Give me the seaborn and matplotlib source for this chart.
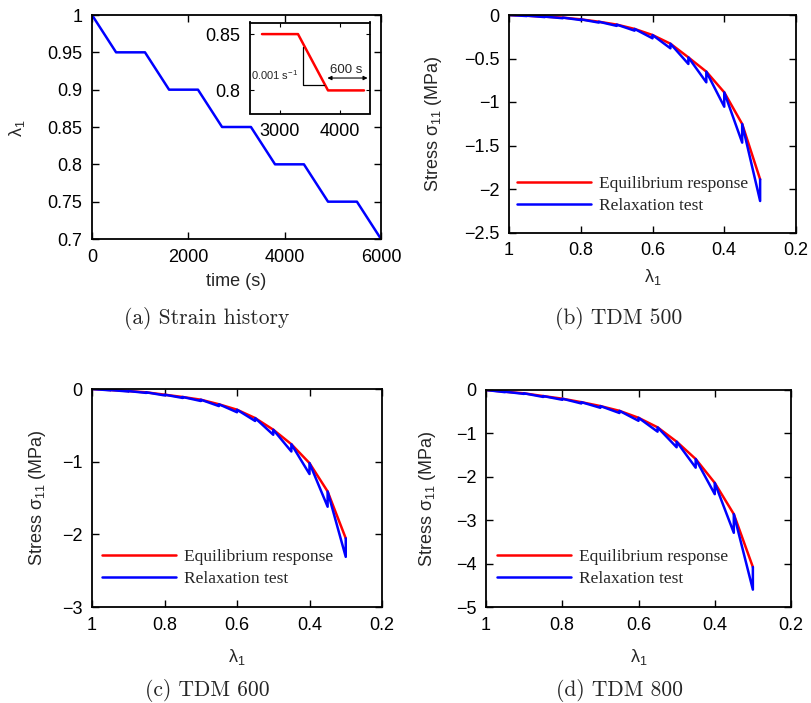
import numpy as np
import pandas as pd
import matplotlib
matplotlib.use("Agg")
import matplotlib.pyplot as plt
import seaborn as sns

# ---- strain history -------------------------------------------------------
hist_time = [0, 500, 1100, 1600, 2200, 2700, 3300, 3800, 4400, 4900, 5500, 6000]
hist_lam = [1.0, 0.95, 0.95, 0.90, 0.90, 0.85, 0.85, 0.80, 0.80, 0.75, 0.75, 0.70]
inset_time = [2700, 3300, 3800, 4400]
inset_lam = [0.85, 0.85, 0.80, 0.80]

# ---- stress-stretch data (one step every 0.05 in lambda_1) ----------------
lam_steps = [1.0, 0.95, 0.90, 0.85, 0.80, 0.75, 0.70, 0.65, 0.60, 0.55,
             0.50, 0.45, 0.40, 0.35, 0.30]

eq_500 = [0, -0.008, -0.019, -0.030, -0.050, -0.077, -0.110, -0.160, -0.230,
          -0.330, -0.487, -0.651, -0.889, -1.253, -1.889]
peak_500 = [0, -0.012, -0.024, -0.037, -0.058, -0.087, -0.125, -0.180, -0.268,
            -0.383, -0.563, -0.774, -1.054, -1.467, -2.138]

eq_600 = [0, -0.014, -0.028, -0.046, -0.078, -0.110, -0.147, -0.210, -0.285,
          -0.400, -0.560, -0.760, -1.020, -1.410, -2.055]
peak_600 = [0, -0.018, -0.034, -0.054, -0.088, -0.123, -0.165, -0.235, -0.320,
            -0.440, -0.630, -0.860, -1.170, -1.620, -2.310]

eq_800 = [0, -0.040, -0.077, -0.140, -0.200, -0.280, -0.370, -0.480, -0.640,
          -0.860, -1.190, -1.590, -2.140, -2.860, -4.080]
peak_800 = [0, -0.050, -0.090, -0.160, -0.225, -0.310, -0.410, -0.530, -0.710,
            -0.960, -1.320, -1.790, -2.400, -3.290, -4.600]

W, H = 811, 703
LW = 1.8
sns.set_theme(style="ticks")
plt.rcParams["font.family"] = ["Liberation Sans", "DejaVu Sans"]
plt.rcParams["mathtext.default"] = "regular"
plt.rcParams["axes.unicode_minus"] = True

fig = plt.figure(figsize=(W / 100, H / 100), dpi=100)


def add_ax(left, right, top, bottom):
    return fig.add_axes([left / W, 1 - bottom / H, (right - left) / W, (bottom - top) / H])


def style(ax, size=13):
    ax.tick_params(direction="in", top=True, right=True, length=5, width=1,
                   labelsize=size, pad=7, colors="black")
    for s in ax.spines.values():
        s.set_linewidth(1.3)
        s.set_color("black")
    ax.grid(False)


def place_labels(ax, xlab, ylab):
    # xlab / ylab: (x, y) centre of each axis label in pixels from the top-left
    ax.xaxis.label.set_verticalalignment("center")
    ax.yaxis.label.set_verticalalignment("center")
    ax.xaxis.set_label_coords(xlab[0] / W, 1 - xlab[1] / H, transform=fig.transFigure)
    ax.yaxis.set_label_coords(ylab[0] / W, 1 - ylab[1] / H, transform=fig.transFigure)


def fmt(v):
    s = f"{v:g}"
    return s.replace("-", "\u2212")


def relaxation_path(lam, eq, peak):
    xs, ys = [lam[0]], [eq[0]]
    for i in range(1, len(lam)):
        xs += [lam[i], lam[i]]
        ys += [peak[i], eq[i]]
    return xs, ys


# ---- (a) strain history ---------------------------------------------------
ax_a = add_ax(92, 381, 15, 239)
sns.lineplot(x=hist_time, y=hist_lam, ax=ax_a, color="#0000ff", lw=LW,
             sort=False, estimator=None)
ax_a.set_xlim(0, 6000)
ax_a.set_ylim(0.7, 1.0)
xt = [0, 2000, 4000, 6000]
ax_a.set_xticks(xt)
ax_a.set_xticklabels([str(v) for v in xt])
yt = [0.7, 0.75, 0.8, 0.85, 0.9, 0.95, 1.0]
ax_a.set_yticks(yt)
ax_a.set_yticklabels([fmt(v) for v in yt])
style(ax_a)
ax_a.set_xlabel("time (s)", fontsize=13)
ax_a.set_ylabel("λ$_1$", fontsize=13)
place_labels(ax_a, (236, 281), (17, 128))

# inset: one loading step
ax_in = add_ax(250, 370, 22.5, 113.5)
ax_in.set_zorder(5)
sns.lineplot(x=inset_time, y=inset_lam, ax=ax_in, color="#ff0000", lw=LW,
             sort=False, estimator=None)
ax_in.set_xlim(2500, 4500)
ax_in.set_ylim(0.7795, 0.8603)
ax_in.set_xticks([3000, 4000])
ax_in.set_xticklabels(["3000", "4000"])
ax_in.set_yticks([0.8, 0.85])
ax_in.set_yticklabels(["0.8", "0.85"])
ax_in.tick_params(direction="in", top=True, right=True, length=3, width=0.8,
                  labelsize=13, pad=7, colors="black")
for s in ax_in.spines.values():
    s.set_linewidth(1.3)
    s.set_color("black")
ax_in.grid(False)
ax_in.plot([3375, 3375, 3728], [0.8383, 0.8048, 0.8048], color="black", lw=0.9)
ax_in.text(3310, 0.8138, "0.001 s$^{-1}$", fontsize=8, ha="right", va="center")
ax_in.annotate("", xy=(4460, 0.811), xytext=(3790, 0.811),
               arrowprops=dict(arrowstyle="<|-|>", color="black", lw=0.8,
                               mutation_scale=6, shrinkA=0, shrinkB=0))
ax_in.text(4110, 0.8185, "600 s", fontsize=9.5, ha="center", va="center")


# ---- stress panels --------------------------------------------------------
def stress_panel(box, eq, peak, ylim, yticks, ylab_x, xlab_y, leg_xy):
    ax = add_ax(*box)
    sns.lineplot(x=lam_steps, y=eq, ax=ax, color="#ff0000", lw=LW,
                 sort=False, estimator=None, label="Equilibrium response")
    bx, by = relaxation_path(lam_steps, eq, peak)
    sns.lineplot(x=bx, y=by, ax=ax, color="#0000ff", lw=LW,
                 sort=False, estimator=None, label="Relaxation test")
    ax.set_xlim(1.0, 0.2)
    ax.set_ylim(*ylim)
    xt = [1.0, 0.8, 0.6, 0.4, 0.2]
    ax.set_xticks(xt)
    ax.set_xticklabels([fmt(v) for v in xt])
    ax.set_yticks(yticks)
    ax.set_yticklabels([fmt(v) for v in yticks])
    style(ax)
    ax.set_xlabel("λ$_1$", fontsize=13)
    ax.set_ylabel("Stress σ$_{11}$ (MPa)", fontsize=13)
    cx = (box[0] + box[1]) / 2
    place_labels(ax, (cx, xlab_y), (ylab_x, (box[2] + box[3]) / 2))
    leg = ax.legend(loc="center left", bbox_to_anchor=(leg_xy[0] / W, 1 - leg_xy[1] / H),
                    bbox_transform=fig.transFigure, frameon=False, borderpad=0,
                    borderaxespad=0, handlelength=4.25, handletextpad=0.5,
                    labelspacing=0.35,
                    prop={"family": "Liberation Serif", "size": 12.5})
    for h in leg.get_lines():
        h.set_linewidth(LW)
    return ax


stress_panel((509, 796, 15, 232.5), eq_500, peak_500, (-2.5, 0),
             [0, -0.5, -1, -1.5, -2, -2.5], 433, 277, (517, 195))
stress_panel((92, 382, 389, 607), eq_600, peak_600, (-3, 0),
             [0, -1, -2, -3], 37, 657, (102, 568))
stress_panel((486, 791, 390, 607), eq_800, peak_800, (-5, 0),
             [0, -1, -2, -3, -4, -5], 427, 657, (497, 568))

# ---- captions -------------------------------------------------------------
cap = dict(fontsize=15.5, ha="center", va="center", family=["cmr10", "DejaVu Serif"])
fig.text(207 / W, 1 - 318 / H, "(a) Strain history", **cap)
fig.text(619 / W, 1 - 318 / H, "(b) TDM 500", **cap)
fig.text(207 / W, 1 - 691 / H, "(c) TDM 600", **cap)
fig.text(619 / W, 1 - 691 / H, "(d) TDM 800", **cap)

fig.savefig("out.png", dpi=100, facecolor="white")
